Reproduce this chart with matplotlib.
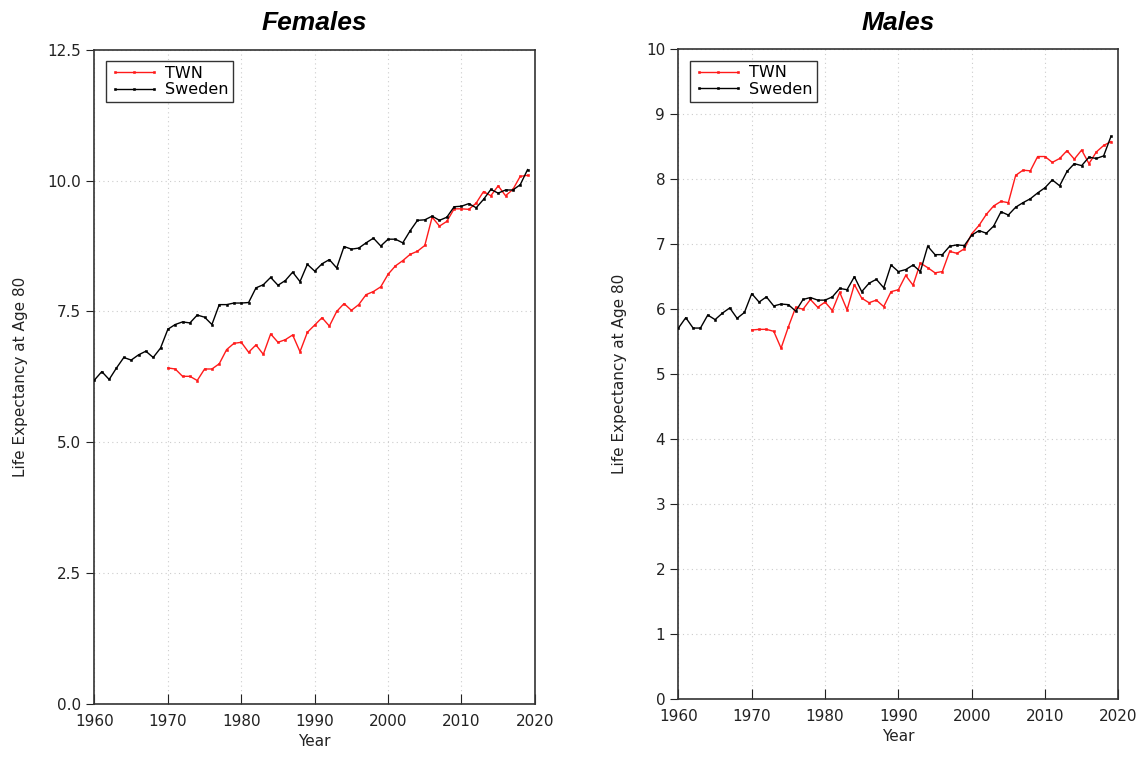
import numpy as np
import matplotlib
matplotlib.use('Agg')
import matplotlib.pyplot as plt

# Life expectancy at age 80
years_swe = list(range(1960, 2020))
years_twn = list(range(1970, 2020))

fem_swe = [6.19, 6.35, 6.20, 6.42, 6.62, 6.57, 6.67, 6.74, 6.62, 6.80,
           7.16, 7.25, 7.30, 7.28, 7.43, 7.39, 7.25, 7.63, 7.63, 7.66,
           7.66, 7.67, 7.95, 8.01, 8.15, 8.00, 8.09, 8.25, 8.07, 8.40,
           8.27, 8.41, 8.49, 8.33, 8.74, 8.69, 8.71, 8.81, 8.90, 8.75,
           8.88, 8.88, 8.81, 9.04, 9.24, 9.25, 9.32, 9.24, 9.30, 9.50,
           9.51, 9.56, 9.48, 9.64, 9.83, 9.76, 9.82, 9.82, 9.92, 10.21]
fem_twn = [6.42, 6.40, 6.26, 6.26, 6.18, 6.40, 6.40, 6.50, 6.77, 6.89,
           6.91, 6.72, 6.86, 6.68, 7.07, 6.91, 6.96, 7.05, 6.73, 7.10,
           7.24, 7.38, 7.22, 7.50, 7.65, 7.52, 7.63, 7.82, 7.88, 7.97,
           8.21, 8.37, 8.47, 8.59, 8.65, 8.76, 9.30, 9.13, 9.22, 9.46,
           9.46, 9.45, 9.57, 9.79, 9.71, 9.90, 9.71, 9.83, 10.08, 10.10]

male_swe = [5.71, 5.87, 5.71, 5.71, 5.91, 5.84, 5.94, 6.02, 5.86, 5.95,
            6.24, 6.11, 6.19, 6.05, 6.08, 6.07, 5.97, 6.15, 6.18, 6.14,
            6.14, 6.19, 6.32, 6.30, 6.50, 6.27, 6.40, 6.46, 6.33, 6.68,
            6.58, 6.61, 6.68, 6.58, 6.97, 6.84, 6.84, 6.97, 6.99, 6.98,
            7.14, 7.21, 7.17, 7.28, 7.50, 7.45, 7.57, 7.64, 7.70, 7.79,
            7.87, 7.99, 7.90, 8.12, 8.24, 8.21, 8.34, 8.32, 8.36, 8.66]
male_twn = [5.68, 5.69, 5.69, 5.66, 5.40, 5.73, 6.03, 6.00, 6.15, 6.03,
            6.11, 5.98, 6.26, 5.99, 6.38, 6.17, 6.10, 6.14, 6.04, 6.27,
            6.30, 6.52, 6.37, 6.71, 6.64, 6.56, 6.58, 6.89, 6.86, 6.93,
            7.16, 7.29, 7.46, 7.59, 7.66, 7.64, 8.06, 8.14, 8.13, 8.35,
            8.35, 8.26, 8.32, 8.44, 8.31, 8.45, 8.24, 8.42, 8.52, 8.58]

fig = plt.figure(figsize=(11.41, 7.59), dpi=100)
ax1 = fig.add_axes([0.0828, 0.0725, 0.386, 0.862])
ax2 = fig.add_axes([0.5946, 0.0790, 0.3855, 0.856])


def draw(ax, twn, swe, title, ymax, yticks, fmt):
    ax.plot(years_twn, twn, color='#ff1a1a', lw=1, marker='s', ms=2.0,
            mew=0.4, label='TWN', zorder=3)
    ax.plot(years_swe, swe, color='black', lw=1, marker='s', ms=2.0,
            mew=0.4, label='Sweden', zorder=3)
    ax.set_xlim(1960, 2020)
    ax.set_ylim(0, ymax)
    ax.set_xticks(range(1960, 2021, 10))
    ax.set_yticks(yticks)
    ax.set_yticklabels([fmt.format(v) for v in yticks])
    ax.grid(True, color='#cccccc', ls=(0, (1, 3)), lw=0.8)
    ax.tick_params(axis='x', direction='in', length=7, labelsize=11,
                   colors='#222222', pad=7)
    ax.tick_params(axis='y', direction='out', length=6, labelsize=11,
                   colors='#222222')
    for s in ax.spines.values():
        s.set_color('#333333')
        s.set_linewidth(1.2)
    ax.set_xlabel('Year', fontsize=11, color='#222222')
    ax.set_ylabel('Life Expectancy at Age 80', fontsize=11, color='#222222',
                  labelpad=14)
    ax.set_title(title, fontsize=19, fontweight='bold', fontstyle='italic',
                 family='Liberation Sans', pad=14)
    leg = ax.legend(loc='upper left', fontsize=11.5, frameon=True, fancybox=False,
                    edgecolor='black', handlelength=3.0, handletextpad=0.4,
                    borderpad=0.3, labelspacing=0.1, borderaxespad=0.7,
                    numpoints=3)
    leg.get_frame().set_linewidth(1.0)


draw(ax1, fem_twn, fem_swe, 'Females', 12.5, [0, 2.5, 5, 7.5, 10, 12.5], '{:.1f}')
draw(ax2, male_twn, male_swe, 'Males', 10, list(range(0, 11)), '{:d}')

fig.savefig('out.png', dpi=100)
